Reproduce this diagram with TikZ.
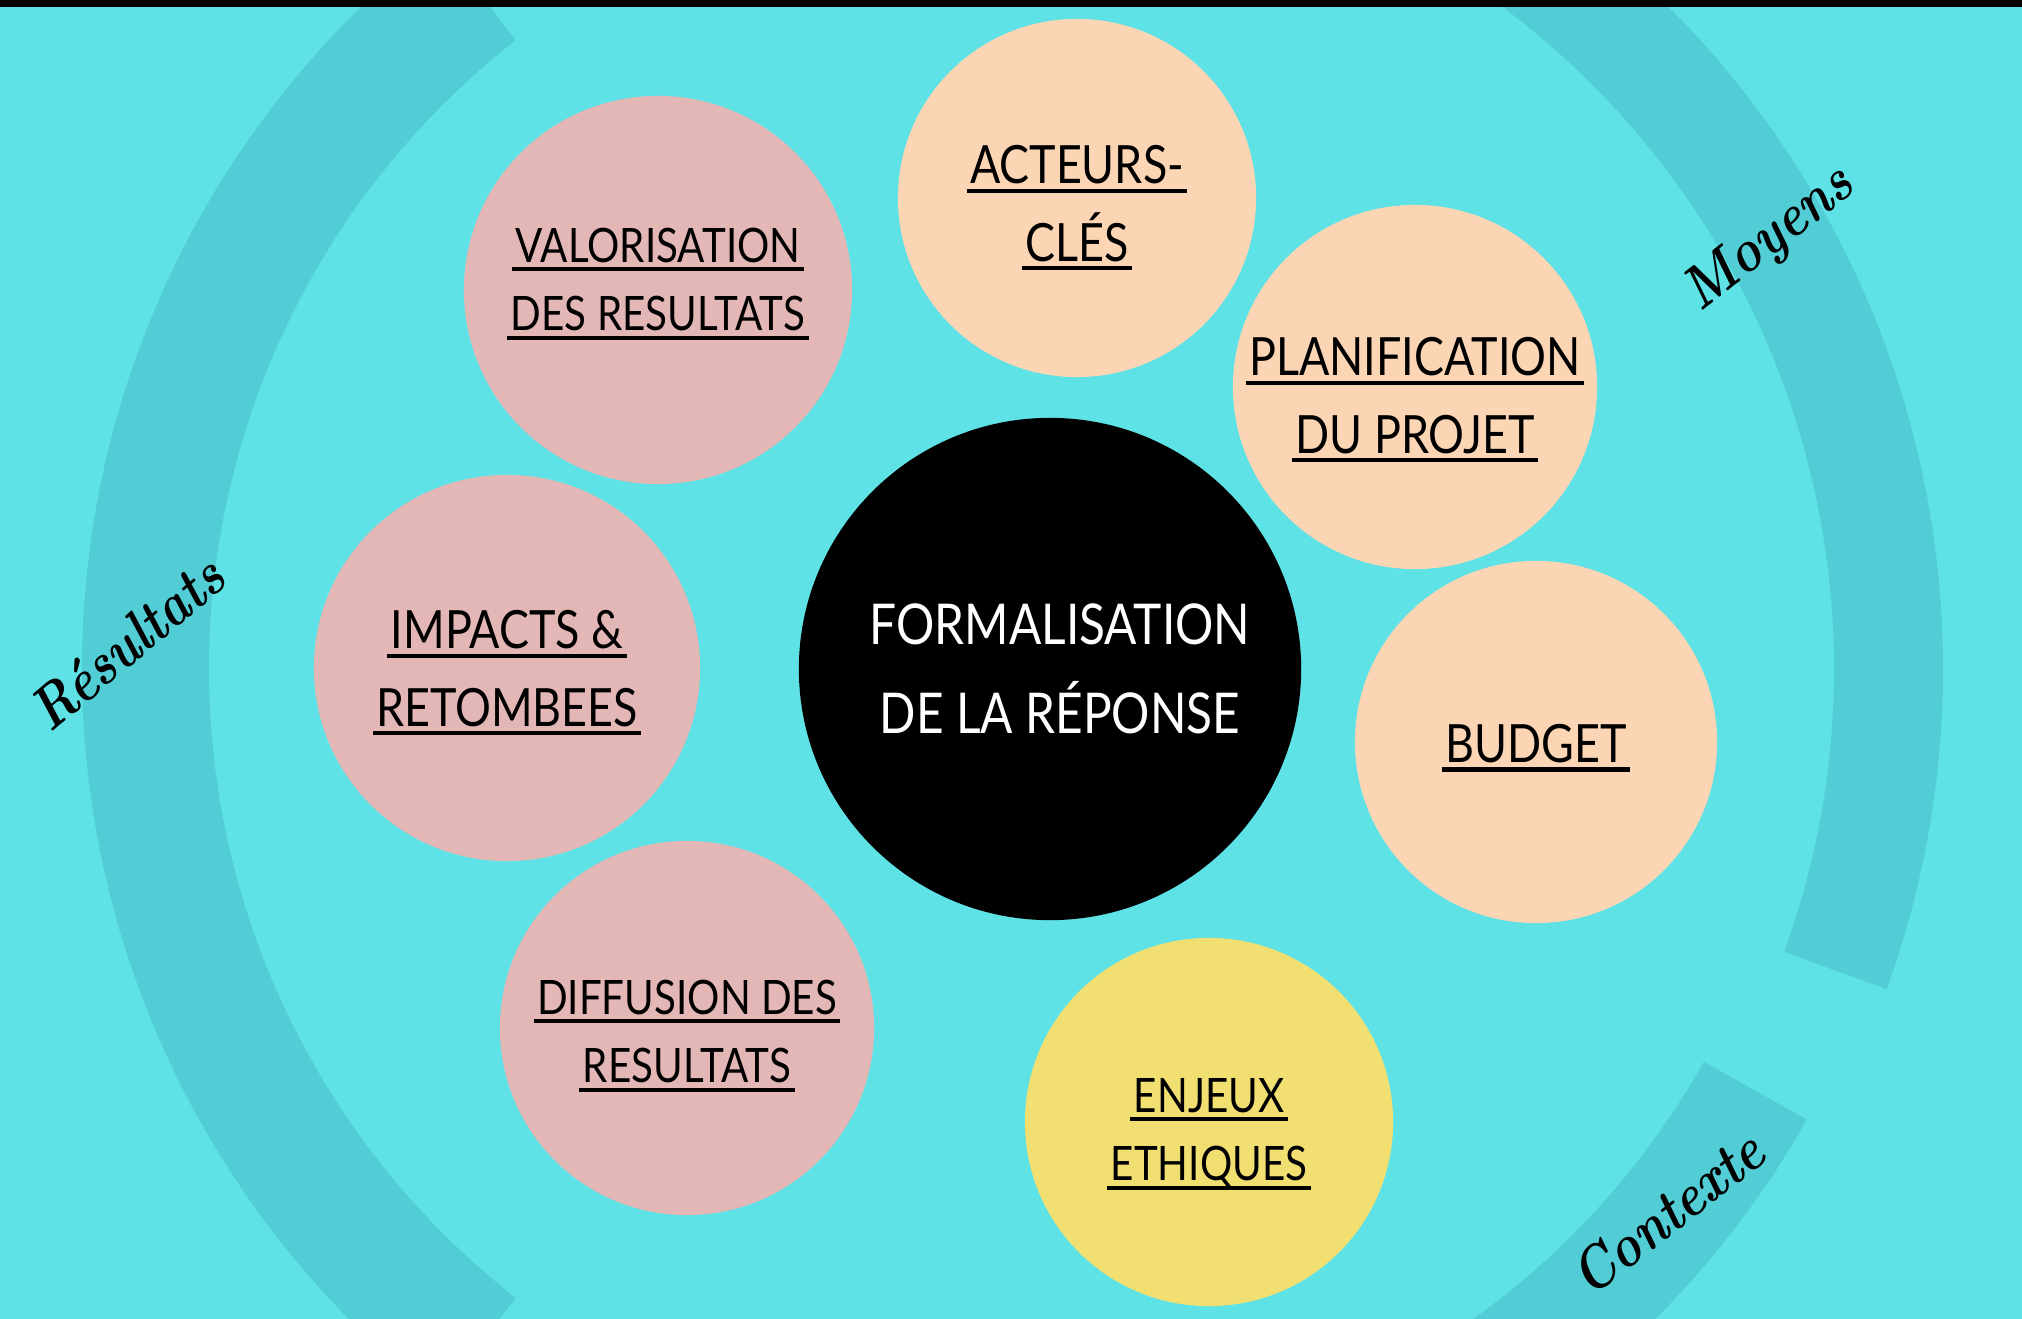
\documentclass[tikz,border=0pt]{standalone}
\usepackage{fontspec}
\usepackage{xcolor}
\usepackage{tikz}
\newfontfamily\etroite[FakeStretch=0.85]{Lato}
\newfontfamily\manus[FakeStretch=0.85]{lmroman10-bolditalic.otf}
\definecolor{fond}{HTML}{5EE2E6}
\definecolor{bande}{HTML}{52CDD5}
\definecolor{rosebulle}{HTML}{E4B7B7}
\definecolor{pechebulle}{HTML}{FCD5B4}
\definecolor{jaunebulle}{HTML}{F1DF72}
\newcommand{\souligne}[1]{\setbox0\hbox{#1}\rlap{\kern-1pt\rule[-2.6pt]{\dimexpr\wd0+2pt\relax}{1.2pt}}\box0}

\begin{document}
\begin{tikzpicture}[x=0.01cm,y=0.01cm]
        \tikzstyle{bulle}=[circle,inner sep=0pt]
        \tikzstyle{texte}=[align=center,inner sep=0pt,text=black]
        \tikzstyle{petit}=[texte,font={\etroite\fontsize{13.5}{19.5}\selectfont}]
        \tikzstyle{grand}=[texte,font={\etroite\fontsize{15}{22}\selectfont}]
        \tikzstyle{rose}=[bulle,fill=rosebulle]
        \tikzstyle{peche}=[bulle,fill=pechebulle]
        \tikzstyle{jaune}=[bulle,fill=jaunebulle]
        \tikzstyle{noir}=[bulle,fill=black]
        \tikzstyle{centrale}=[texte,text=white,font={\etroite\fontsize{16}{25.3}\selectfont}]
        \tikzstyle{manuscrit}=[font={\manus\fontsize{17}{17}\selectfont},text=black,inner sep=0pt]
        \clip (0,0) rectangle (2022,-1319);
        \fill[fond] (0,0) rectangle (2022,-1319);
        \coordinate (centre) at (1007,-669);
        \fill[bande] ([shift={(128:798)}]centre) arc[start angle=128,end angle=232,radius=798]
          -- ([shift={(232:925)}]centre) arc[start angle=232,end angle=128,radius=925] -- cycle;
        \fill[bande] ([shift={(-20:827)}]centre) arc[start angle=-20,end angle=75,radius=827]
          -- ([shift={(75:936)}]centre) arc[start angle=75,end angle=-20,radius=936] -- cycle;
        \fill[bande] ([shift={(-29.4:800)}]centre) arc[start angle=-29.4,end angle=-80,radius=800]
          -- ([shift={(-80:918)}]centre) arc[start angle=-80,end angle=-29.4,radius=918] -- cycle;
        \fill[black] (0,0) rectangle (2022,-7);
        \node[noir,minimum size=5.02cm] (formalisation) at (1050,-669) {};
        \node[peche,minimum size=3.58cm] (acteurs) at (1077,-198) {};
        \node[peche,minimum size=3.64cm] (planification) at (1415,-387) {};
        \node[peche,minimum size=3.62cm] (budget) at (1536,-742) {};
        \node[jaune,minimum size=3.68cm] (enjeux) at (1209,-1122) {};
        \node[rose,minimum size=3.88cm] (valorisation) at (658,-290) {};
        \node[rose,minimum size=3.86cm] (impacts) at (507,-668) {};
        \node[rose,minimum size=3.74cm] (diffusion) at (687,-1028) {};
        \node[centrale] (formalisation texte) at ([shift={(10,0)}]formalisation.center) {FORMALISATION\\DE LA RÉPONSE};
        \node[grand] (acteurs texte) at ([shift={(0,-10)}]acteurs.center) {\souligne{ACTEURS-}\\\souligne{CLÉS}};
        \node[grand] (planification texte) at ([shift={(0,-13)}]planification.center) {\souligne{PLANIFICATION}\\\souligne{DU PROJET}};
        \node[grand] (budget texte) at ([shift={(0,-6)}]budget.center) {\souligne{BUDGET}};
        \node[petit] (enjeux texte) at ([shift={(0,-12)}]enjeux.center) {\souligne{ENJEUX}\\\souligne{ETHIQUES}};
        \node[petit] (valorisation texte) at ([shift={(0,6)}]valorisation.center) {\souligne{VALORISATION}\\\souligne{DES RESULTATS}};
        \node[grand] (impacts texte) at ([shift={(0,-5)}]impacts.center) {\souligne{IMPACTS \&}\\\souligne{RETOMBEES}};
        \node[petit] (diffusion texte) at ([shift={(0,-8)}]diffusion.center) {\souligne{DIFFUSION DES}\\\souligne{RESULTATS}};
        \node[manuscrit,rotate=40] (resultats) at (127,-643) {Résultats};
        \node[manuscrit,rotate=38] (moyens) at (1770,-240) {Moyens};
        \node[manuscrit,rotate=38] (contexte) at (1667,-1213) {Contexte};
\end{tikzpicture}
\end{document}
